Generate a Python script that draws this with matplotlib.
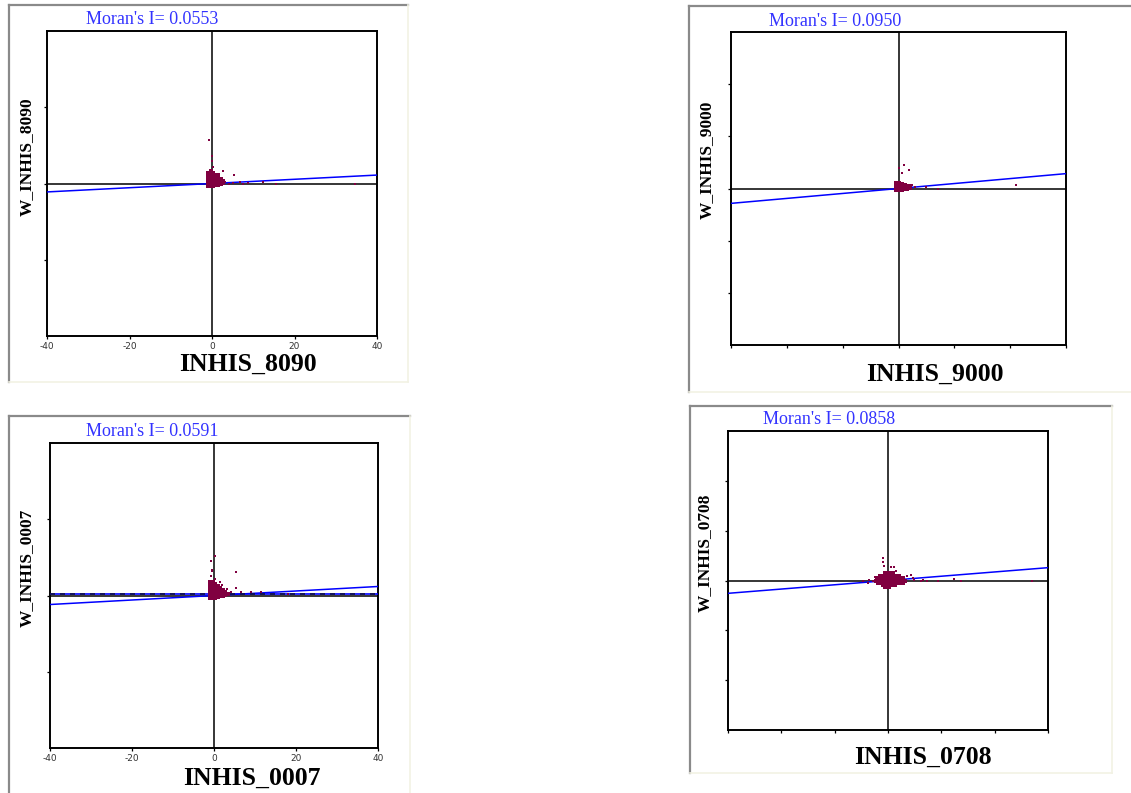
import numpy as np
import matplotlib.pyplot as plt
from matplotlib.lines import Line2D

# -----------------------------
# --- Data
# -----------------------------
var_names = ["INHIS_8090", "INHIS_9000", "INHIS_0007", "INHIS_0708"]
morans_i = [0.0553, 0.0950, 0.0591, 0.0858]

# isolated points (x = standardised value, y = spatial lag)
outliers_8090 = [(-0.7, 11.5), (0.0, 7.3), (0.0, 5.8), (0.2, 4.2), (1.0, 2.5), (1.8, 2.5),
                 (2.7, 3.2), (5.3, 2.1), (3.1, 0.3), (4.2, -0.1), (5.2, 0.1), (6.8, 0.3),
                 (7.6, -0.1), (8.8, 0.1), (12.4, 0.3), (15.5, 0.0), (34.7, 0.0)]
outliers_9000 = [(0.10, 0.45), (0.18, 0.36), (0.07, 0.30), (0.0, 0.39), (0.25, 0.06),
                 (0.29, 0.03), (0.50, 0.03), (0.71, 0.0), (2.10, 0.07)]
outliers_0007 = [(0.3, 10.3), (-0.7, 9.0), (-0.6, 6.8), (-0.4, 6.5), (-0.7, 5.2), (0.2, 4.4),
                 (5.4, 6.1), (5.4, 1.9), (4.1, 0.9), (6.6, 0.9), (9.0, 1.0), (11.5, 1.0),
                 (18.1, 0.4), (2.0, 2.8), (3.2, 1.6), (1.5, 3.6)]
outliers_0708 = [(-0.09, 0.45), (-0.09, 0.38), (-0.07, 0.30), (0.06, 0.27), (0.12, 0.27),
                 (0.15, 0.20), (0.43, 0.11), (0.46, 0.05), (0.49, 0.01), (0.61, -0.02),
                 (0.65, 0.01), (0.74, -0.02), (0.93, -0.02), (1.23, 0.03), (1.37, -0.02),
                 (2.70, -0.02), (-0.38, -0.05), (-0.29, -0.02), (-0.46, -0.02),
                 (-0.35, 0.01), (-0.07, -0.15), (-0.25, 0.08), (0.35, 0.09), (0.30, -0.08)]

# dense clumps around the origin
cluster_8090 = [(-0.9, -0.7), (-0.9, 0.0), (-0.9, 0.7), (-0.9, 1.4), (-0.9, 2.1), (-0.9, 2.8),
                (-0.3, -0.7), (-0.3, 0.0), (-0.3, 0.7), (-0.3, 1.4), (-0.3, 2.1), (-0.3, 2.8),
                (-0.3, 3.4), (0.3, -0.7), (0.3, 0.0), (0.3, 0.7), (0.3, 1.4), (0.3, 2.1),
                (0.3, 2.8), (0.9, -0.5), (0.9, 0.2), (0.9, 0.9), (0.9, 1.6), (0.9, 2.2),
                (1.5, -0.3), (1.5, 0.4), (1.5, 1.1), (1.5, 1.7), (2.1, 0.0), (2.1, 0.6),
                (2.1, 1.2), (2.7, 0.2), (2.7, 0.7)]
cluster_9000 = [(-0.04, -0.02), (-0.04, 0.02), (-0.04, 0.06), (-0.04, 0.10),
                (0.01, -0.02), (0.01, 0.02), (0.01, 0.06), (0.01, 0.10),
                (0.06, -0.02), (0.06, 0.02), (0.06, 0.06), (0.06, 0.09),
                (0.11, -0.01), (0.11, 0.03), (0.11, 0.07), (0.16, 0.0), (0.16, 0.04),
                (0.21, 0.01), (0.21, 0.04)]
cluster_0007 = [(-0.9, -0.6), (-0.9, 0.1), (-0.9, 0.8), (-0.9, 1.5), (-0.9, 2.2), (-0.9, 2.9),
                (-0.9, 3.6), (-0.3, -0.6), (-0.3, 0.1), (-0.3, 0.8), (-0.3, 1.5), (-0.3, 2.2),
                (-0.3, 2.9), (-0.3, 3.6), (0.3, -0.6), (0.3, 0.1), (0.3, 0.8), (0.3, 1.5),
                (0.3, 2.2), (0.3, 2.9), (0.9, -0.4), (0.9, 0.3), (0.9, 1.0), (0.9, 1.7),
                (0.9, 2.4), (1.5, -0.2), (1.5, 0.5), (1.5, 1.2), (1.5, 1.9), (2.1, 0.0),
                (2.1, 0.7), (2.1, 1.4), (2.7, 0.2), (2.7, 0.9), (3.3, 0.3)]
cluster_0708 = [(-0.05, 0.15), (0.0, 0.15), (0.05, 0.15), (0.10, 0.15),
                (-0.15, 0.10), (-0.10, 0.10), (-0.05, 0.10), (0.0, 0.10), (0.05, 0.10),
                (0.10, 0.10), (0.15, 0.10), (0.20, 0.10),
                (-0.20, 0.05), (-0.14, 0.05), (-0.08, 0.05), (-0.02, 0.05), (0.04, 0.05),
                (0.10, 0.05), (0.16, 0.05), (0.22, 0.05), (0.28, 0.05),
                (-0.22, 0.0), (-0.16, 0.0), (-0.10, 0.0), (-0.04, 0.0), (0.02, 0.0),
                (0.08, 0.0), (0.14, 0.0), (0.20, 0.0), (0.26, 0.0), (0.32, 0.0),
                (-0.18, -0.05), (-0.12, -0.05), (-0.06, -0.05), (0.0, -0.05), (0.06, -0.05),
                (0.12, -0.05), (0.18, -0.05), (0.24, -0.05),
                (-0.10, -0.10), (-0.04, -0.10), (0.02, -0.10), (0.08, -0.10), (0.14, -0.10),
                (-0.05, -0.14), (0.02, -0.14)]

outliers = [outliers_8090, outliers_9000, outliers_0007, outliers_0708]
clusters = [cluster_8090, cluster_9000, cluster_0007, cluster_0708]

axis_limits = [40, 3, 40, 3]
x_ticks = [[-40, -20, 0, 20, 40], [-3, -2, -1, 0, 1, 2, 3],
           [-40, -20, 0, 20, 40], [-3, -2, -1, 0, 1, 2, 3]]
y_ticks = [[-20, 0, 20], [-2, -1, 0, 1, 2], [-20, 0, 20], [-2, -1, 0, 1, 2]]
show_x_labels = [True, False, True, False]
dashed_ref_y = 0.5   # extra dashed line in the 0007 panel

# -----------------------------
# --- Layout (pixels of the 1131x793 screenshot)
# -----------------------------
W, H = 1131, 793
# plot boxes: left, top, right, bottom
boxes = [(47, 31, 377, 336), (731, 32, 1066, 345), (50, 443, 378, 748), (728, 431, 1048, 730)]
# window frames: left, top, right, bottom
frames = [(9, 5, 408, 382), (689, 6, 1135, 392), (9, 416, 410, 797), (690, 406, 1112, 773)]
moran_pos = [(152, 19), (835, 21), (152, 431), (829, 420)]
xlabel_pos = [(248, 364), (935, 374), (252, 778), (923, 757)]
ylabel_pos = [(27, 157), (707, 160), (27, 568), (705, 553)]

serif = "Liberation Serif"
pt_color = "#800040"

fig = plt.figure(figsize=(W / 100, H / 100), dpi=100)
fig.patch.set_facecolor("white")

bg = fig.add_axes([0, 0, 1, 1])
bg.set_xlim(0, W)
bg.set_ylim(H, 0)
bg.axis("off")

for (l, t, r, b) in frames:
    bg.add_line(Line2D([l, r], [t, t], color="#8a8a8a", lw=1.6))
    bg.add_line(Line2D([l, l], [t, b], color="#8a8a8a", lw=1.6))
    bg.add_line(Line2D([r, r], [t, b], color="#f2f2e4", lw=1.2))
    bg.add_line(Line2D([l, r], [b, b], color="#f2f2e4", lw=1.2))


def px_rect(l, t, r, b):
    return [l / W, 1 - b / H, (r - l) / W, (b - t) / H]


for i in range(4):
    ax = fig.add_axes(px_rect(*boxes[i]))
    lim = axis_limits[i]
    ax.set_xlim(-lim, lim)
    ax.set_ylim(-lim, lim)
    for s in ax.spines.values():
        s.set_linewidth(1.4)
        s.set_color("black")

    ax.axhline(0, color="black", lw=1.1, zorder=2)
    ax.axvline(0, color="black", lw=1.1, zorder=2)

    xs = np.array([-lim, lim])
    ax.plot(xs, morans_i[i] * xs, color="#0000ff", lw=1.1, zorder=3)
    if i == 2:
        ax.plot(xs, [dashed_ref_y, dashed_ref_y], color="#0000ff", lw=1.2, zorder=3)
        ax.plot(xs, [dashed_ref_y, dashed_ref_y], color="#101040", lw=1.2,
                dashes=(3, 3), zorder=3)

    cl = np.array(clusters[i])
    ax.scatter(cl[:, 0], cl[:, 1], s=11, marker="s", color=pt_color, lw=0, zorder=4)
    ol = np.array(outliers[i])
    ax.scatter(ol[:, 0], ol[:, 1], s=3, marker="s", color=pt_color, lw=0, zorder=4)

    ax.set_xticks(x_ticks[i])
    ax.set_yticks(y_ticks[i])
    ax.set_yticklabels([])
    if show_x_labels[i]:
        ax.set_xticklabels([str(v) for v in x_ticks[i]], fontsize=6.5,
                           color="#333333", family="DejaVu Sans")
    else:
        ax.set_xticklabels([])
    ax.tick_params(direction="out", length=2.5, width=0.9, pad=1.5)

    bg.text(*moran_pos[i], f"Moran's I= {morans_i[i]:.4f}", color="#3333ff",
            family=serif, fontsize=13, ha="center", va="center")
    bg.text(*xlabel_pos[i], var_names[i], family=serif, fontsize=18.5,
            fontweight="bold", ha="center", va="center")
    bg.text(*ylabel_pos[i], "W_" + var_names[i], family=serif, fontsize=12.5,
            fontweight="bold", ha="center", va="center", rotation=90)

fig.savefig("out.png", dpi=100)
